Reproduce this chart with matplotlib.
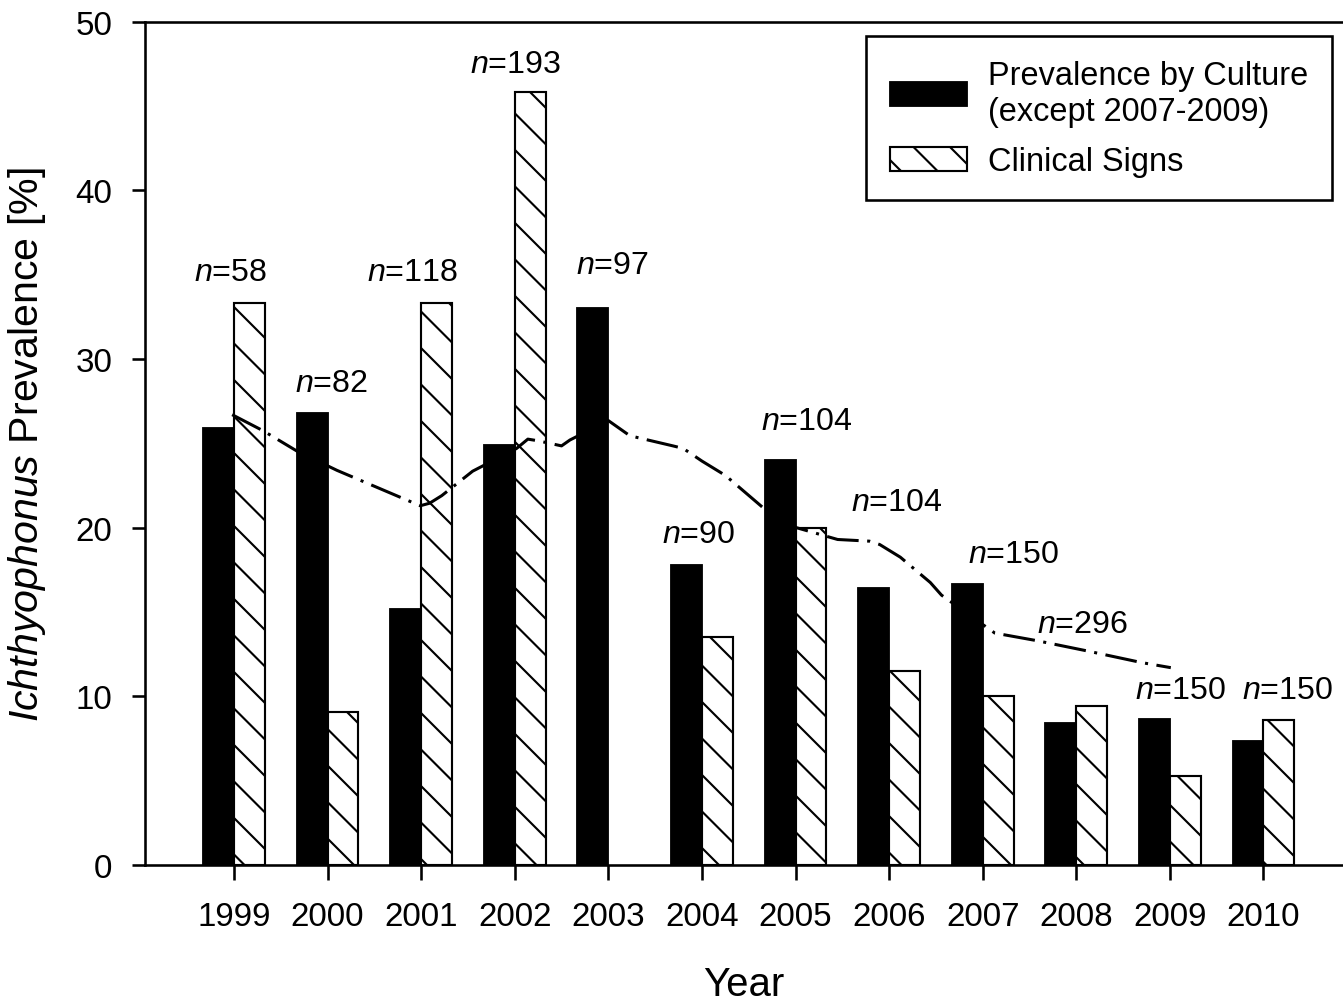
import matplotlib
matplotlib.use("Agg")
import matplotlib.pyplot as plt
import numpy as np

# ---- data ----
years = ["1999", "2000", "2001", "2002", "2003", "2004", "2005", "2006",
         "2007", "2008", "2009", "2010"]
culture = [25.9, 26.8, 15.2, 24.9, 33.0, 17.8, 24.0, 16.4, 16.65, 8.4, 8.65, 7.35]
clinical = [33.3, 9.05, 33.3, 45.85, np.nan, 13.5, 20.0, 11.5, 10.0, 9.45, 5.3, 8.6]
sample_n = ["58", "82", "118", "193", "97", "90", "104", "104", "150", "296", "150", "150"]

# dash-dot trend line (x in year-index units)
trend_x = [-0.02, 0.31, 0.67, 1.10, 1.99, 2.09, 2.22, 2.55, 3.02, 3.14, 3.25, 3.50,
           3.59, 4.00, 4.23, 4.69, 4.80, 5.00, 5.25, 5.65, 6.01, 6.45, 6.79, 6.90,
           7.12, 7.44, 7.56, 7.99, 8.13, 8.58, 9.11, 9.70, 10.01]
trend_y = [26.7, 25.75, 24.55, 23.4, 21.3, 21.45, 21.9, 23.35, 24.7, 25.25, 25.15, 24.85,
           25.2, 26.35, 25.45, 24.85, 24.7, 23.95, 23.1, 21.2, 20.0, 19.3, 19.2, 19.0,
           18.25, 16.75, 16.0, 14.3, 13.75, 13.3, 12.7, 12.0, 11.7]

# label placement (layout)
lab_x = [-0.04, 1.04, 1.91, 3.01, 4.04, 4.96, 6.12, 7.08, 8.33, 9.07, 10.11, 11.26]
lab_y = [35.15, 28.6, 35.15, 47.5, 35.55, 19.6, 26.35, 21.5, 18.45, 14.3, 10.35, 10.35]

# ---- style ----
plt.rcParams['font.family'] = ['Liberation Sans', 'DejaVu Sans']
plt.rcParams['mathtext.fontset'] = 'custom'
plt.rcParams['mathtext.rm'] = 'Liberation Sans'
plt.rcParams['mathtext.it'] = 'Liberation Sans:italic'
plt.rcParams['hatch.linewidth'] = 0.7
plt.rcParams['hatch.color'] = 'black'

DPI = 219
fig = plt.figure(figsize=(1343 / DPI, 1002 / DPI), dpi=DPI)
ax = fig.add_axes([145 / 1343, 1 - 866 / 1002, 1 - 145 / 1343, (866 - 22.7) / 1002])

x = np.arange(len(years))
w = 0.33
ax.bar(x - w / 2, culture, width=w, color='black', edgecolor='black',
       linewidth=0.6, zorder=3, label='Prevalence by Culture\n(except 2007-2009)')
ax.bar(x + w / 2, clinical, width=w, color='white', edgecolor='black',
       linewidth=0.7, hatch='\\\\', zorder=1, label='Clinical Signs')
ax.plot(trend_x, trend_y, color='black', lw=1.0,
        linestyle=(0, (10.5, 2.8, 1.0, 2.8)), zorder=2)

for lx, ly, n in zip(lab_x, lab_y, sample_n):
    ax.text(lx, ly, r'$\mathit{n}$=' + n, ha='center', va='center', fontsize=10.6)

ax.set_xlim(-0.951, 11.85)
ax.set_ylim(0, 50)
ax.set_xticks(x)
ax.set_xticklabels(years)
ax.set_yticks([0, 10, 20, 30, 40, 50])
ax.tick_params(axis='both', direction='out', labelsize=10.9, width=0.85)
ax.tick_params(axis='x', length=4.8, pad=7.1)
ax.tick_params(axis='y', length=4.4, pad=6.4)
for s in ['left', 'bottom', 'top']:
    ax.spines[s].set_linewidth(0.85)
ax.spines['right'].set_visible(False)

ax.set_xlabel('Year', fontsize=13.2, labelpad=10.8)
ax.set_ylabel(r'$\mathit{Ichthyophonus}$ Prevalence [%]', fontsize=13.5, labelpad=9.0)

leg = ax.legend(loc='upper right', bbox_to_anchor=(0.9906, 0.9827), borderaxespad=0,
                fontsize=10.7, frameon=True, fancybox=False, edgecolor='black',
                framealpha=1, handlelength=2.37, handleheight=0.77,
                handletextpad=0.65, borderpad=0.72, labelspacing=0.6)
leg.get_frame().set_linewidth(0.85)

fig.savefig('out.png', dpi=DPI)
